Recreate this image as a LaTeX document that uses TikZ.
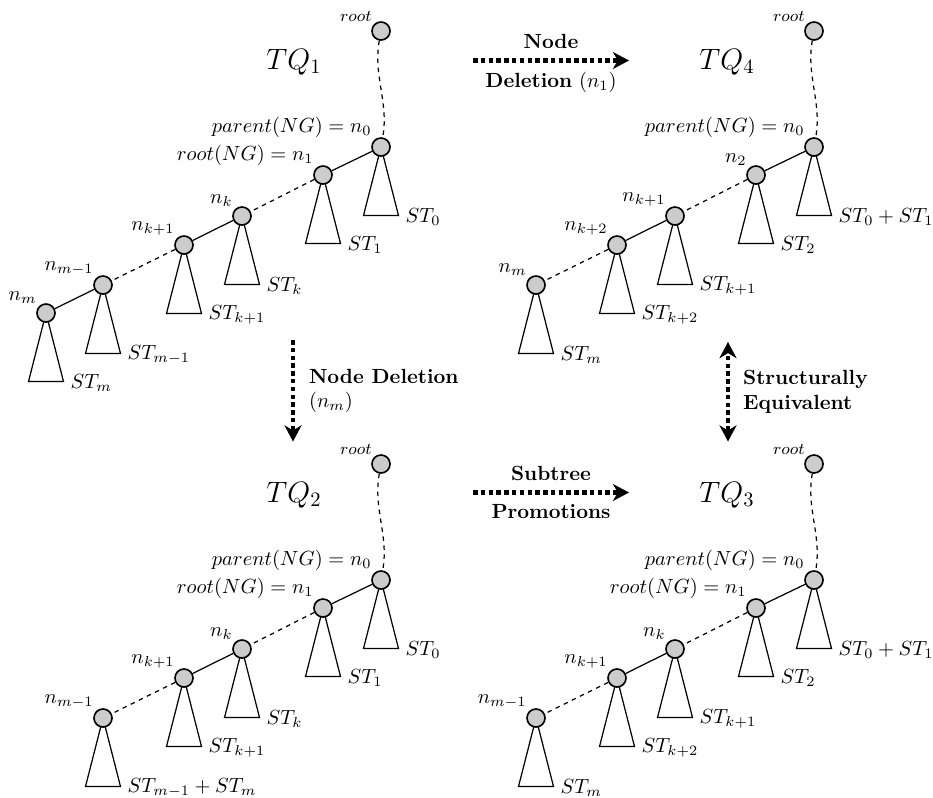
\documentclass[tikz,border=0pt]{standalone}
\usetikzlibrary{arrows.meta}

\tikzset{
  vertex/.style={circle,draw,line width=0.8pt,fill=gray!40,inner sep=0pt,minimum size=8.8pt},
  edge/.style={line width=0.6pt},
  dashededge/.style={edge,dash pattern=on 2.2pt off 2.2pt},
  subtree/.style={line width=0.6pt},
  stlabel/.style={anchor=west},
  nlabel/.style={inner sep=1pt},
  rootlbl/.style={inner sep=1pt,font=\footnotesize},
  tqlabel/.style={font=\Large},
  bigtip/.tip={Stealth[length=8pt,width=8.5pt,inset=2.6pt,line width=0pt]},
  bigarrow/.style={line width=2.2pt,dash pattern=on 2.2pt off 1.6pt},
}

% a vertex of the chain together with the subtree hanging below it
\newcommand\treevertex[4]{%
  \coordinate (#1-top) at (#2);
  \draw[subtree] (#1-top) -- ++(-17.5,68.5) coordinate (#1-bl)
    -- ++(35,0) coordinate (#1-br) -- cycle;
  \node[stlabel] (#1-st) at ([yshift=-0.6pt]#1-br) {#4};
  \node[vertex,label={[nlabel]north west:{#3}}] (#1) at (#1-top) {};
}

\begin{document}
\begin{tikzpicture}[x=0.488pt,y=-0.488pt]
\useasboundingbox (0,0) rectangle (933,797);

% ---------- TQ1 ----------
\node[tqlabel] (TQ1) at (294,62) {$TQ_1$};
\node[vertex,label={[rootlbl]north west:$root$}] (A) at (381,31) {};
\treevertex{A0}{381,147}{$parent(NG)=n_0$}{$ST_0$}
\treevertex{A1}{323,175}{$root(NG)=n_1$}{$ST_1$}
\treevertex{A2}{242,216}{$n_k$}{$ST_k$}
\treevertex{A3}{184,245}{$n_{k+1}$}{$ST_{k+1}$}
\treevertex{A4}{103,285}{$n_{m-1}$}{$ST_{m-1}$}
\treevertex{A5}{46,313}{$n_m$}{$ST_m$}
\draw[dashededge] (A) .. controls +(-8,45) and +(8,-45) .. (A0);
\draw[edge] (A0) -- (A1);
\draw[dashededge] (A1) -- (A2);
\draw[edge] (A2) -- (A3);
\draw[dashededge] (A3) -- (A4);
\draw[edge] (A4) -- (A5);

% ---------- TQ4 ----------
\begin{scope}[shift={(433,0)}]
\node[tqlabel] (TQ4) at (294,62) {$TQ_4$};
\node[vertex,label={[rootlbl]north west:$root$}] (B) at (381,31) {};
\treevertex{B0}{381,147}{$parent(NG)=n_0$}{$ST_0+ST_1$}
\treevertex{B1}{323,175}{$n_2$}{$ST_2$}
\treevertex{B2}{242,216}{$n_{k+1}$}{$ST_{k+1}$}
\treevertex{B3}{184,245}{$n_{k+2}$}{$ST_{k+2}$}
\treevertex{B4}{103,285}{$n_m$}{$ST_m$}
\draw[dashededge] (B) .. controls +(-8,45) and +(8,-45) .. (B0);
\draw[edge] (B0) -- (B1);
\draw[dashededge] (B1) -- (B2);
\draw[edge] (B2) -- (B3);
\draw[dashededge] (B3) -- (B4);
\end{scope}

% ---------- TQ2 ----------
\begin{scope}[shift={(0,433)}]
\node[tqlabel] (TQ2) at (294,62) {$TQ_2$};
\node[vertex,label={[rootlbl]north west:$root$}] (C) at (381,31) {};
\treevertex{C0}{381,147}{$parent(NG)=n_0$}{$ST_0$}
\treevertex{C1}{323,175}{$root(NG)=n_1$}{$ST_1$}
\treevertex{C2}{242,216}{$n_k$}{$ST_k$}
\treevertex{C3}{184,245}{$n_{k+1}$}{$ST_{k+1}$}
\treevertex{C4}{103,285}{$n_{m-1}$}{$ST_{m-1}+ST_m$}
\draw[dashededge] (C) .. controls +(-8,45) and +(8,-45) .. (C0);
\draw[edge] (C0) -- (C1);
\draw[dashededge] (C1) -- (C2);
\draw[edge] (C2) -- (C3);
\draw[dashededge] (C3) -- (C4);
\end{scope}

% ---------- TQ3 ----------
\begin{scope}[shift={(433,433)}]
\node[tqlabel] (TQ3) at (294,62) {$TQ_3$};
\node[vertex,label={[rootlbl]north west:$root$}] (D) at (381,31) {};
\treevertex{D0}{381,147}{$parent(NG)=n_0$}{$ST_0+ST_1$}
\treevertex{D1}{323,175}{$root(NG)=n_1$}{$ST_2$}
\treevertex{D2}{242,216}{$n_k$}{$ST_{k+1}$}
\treevertex{D3}{184,245}{$n_{k+1}$}{$ST_{k+2}$}
\treevertex{D4}{103,285}{$n_{m-1}$}{$ST_m$}
\draw[dashededge] (D) .. controls +(-8,45) and +(8,-45) .. (D0);
\draw[edge] (D0) -- (D1);
\draw[dashededge] (D1) -- (D2);
\draw[edge] (D2) -- (D3);
\draw[dashededge] (D3) -- (D4);
\end{scope}

% ---------- transformation arrows ----------
\coordinate (h1s) at (473,60.5);
\coordinate (h1e) at (629,60.5);
\draw[bigarrow,-bigtip] (h1s) --
  node[above=1.3pt] (h1top) {\textbf{Node}}
  node[below=1.3pt] (h1bot) {\textbf{Deletion} ($n_1$)} (h1e);

\coordinate (h2s) at (473,492.5);
\coordinate (h2e) at (629,492.5);
\draw[bigarrow,-bigtip] (h2s) --
  node[above=1.3pt] (h2top) {\textbf{Subtree}}
  node[below=1.3pt] (h2bot) {\textbf{Promotions}} (h2e);

\coordinate (v1s) at (293,340);
\coordinate (v1e) at (293,441.5);
\draw[bigarrow,-bigtip] (v1s) --
  node[right=3.4pt,align=left] (v1lbl) {\textbf{Node Deletion}\\($n_m$)} (v1e);

\coordinate (v2s) at (728,441.5);
\coordinate (v2e) at (728,342);
\draw[bigarrow,bigtip-bigtip] (v2s) --
  node[right=3pt,align=left] (v2lbl) {\textbf{Structurally}\\\textbf{Equivalent}} (v2e);
\end{tikzpicture}
\end{document}
